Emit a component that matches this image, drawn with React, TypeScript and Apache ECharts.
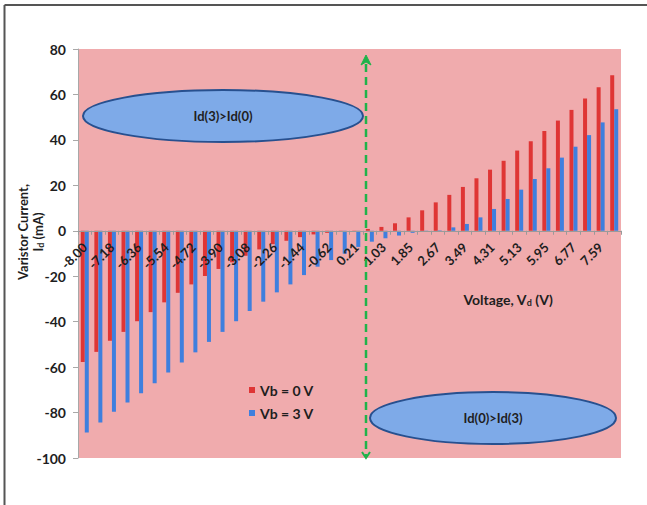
import React, { useEffect, useRef } from "react";
import * as echarts from "echarts";

// Drain voltage steps (V)
const voltages: string[] = [
  "-8.00", "-7.59", "-7.18", "-6.77", "-6.36", "-5.95", "-5.54", "-5.13",
  "-4.72", "-4.31", "-3.90", "-3.49", "-3.08", "-2.67", "-2.26", "-1.85",
  "-1.44", "-1.03", "-0.62", "-0.21", "0.21", "0.62", "1.03", "1.44",
  "1.85", "2.26", "2.67", "3.08", "3.49", "3.90", "4.31", "4.72",
  "5.13", "5.54", "5.95", "6.36", "6.77", "7.18", "7.59", "8.00",
];

// Varistor current Id (mA) at Vb = 0 V
const currentVb0: number[] = [
  -57.7, -53.3, -48.4, -44.5, -39.8, -35.8, -31.5, -27.3, -23.6, -19.9,
  -16.8, -13.9, -11.0, -8.2, -5.9, -4.4, -2.8, -1.6, -0.9, -0.5,
  -0.2, 0.8, 1.7, 3.3, 5.9, 9.0, 12.5, 15.8, 19.3, 23.1,
  26.9, 30.8, 35.3, 39.4, 43.9, 48.5, 53.2, 58.2, 63.2, 68.5,
];

// Varistor current Id (mA) at Vb = 3 V
const currentVb3: number[] = [
  -88.8, -84.4, -79.7, -75.6, -71.5, -67.1, -62.4, -58.0, -53.5, -48.9,
  -44.5, -39.8, -35.3, -31.2, -27.1, -23.6, -19.5, -15.8, -12.9, -10.1,
  -7.1, -4.8, -3.3, -2.1, -0.9, -0.3, 0.2, 1.5, 3.0, 5.9,
  9.6, 14.0, 18.1, 22.8, 27.5, 32.2, 37.0, 42.1, 47.7, 53.5,
];

const seriesNames: string[] = ["Vb = 0 V", "Vb = 3 V"];

const Y_MIN = -100;
const Y_MAX = 80;

const FONT = "Lato, 'Liberation Sans', sans-serif";
const TEXT = "#1e1e1e";
const GREEN = "#1fb34a";

export default function App() {
  const ref = useRef<HTMLDivElement>(null);

  useEffect(() => {
    if (!ref.current) return;
    const chart = echarts.init(ref.current, undefined, { renderer: "svg" });

    const gridTop = 49;
    const gridBottom = 47;
    const plotHeight = 505 - gridTop - gridBottom;
    // lift the category axis (line, ticks and labels) up to y = 0
    const zeroLift = -(plotHeight * (0 - Y_MIN)) / (Y_MAX - Y_MIN);

    const dashX = 366;
    const dashTop = 58;
    const dashBottom = 458;

    chart.setOption({
      animation: false,
      backgroundColor: "#ffffff",
      textStyle: { fontFamily: FONT },
      grid: {
        left: 78,
        top: gridTop,
        right: 26,
        bottom: gridBottom,
        show: true,
        backgroundColor: "#f0abad",
        borderWidth: 0,
        containLabel: false,
        outerBoundsMode: "none",
      },
      legend: {
        orient: "vertical",
        left: 244,
        top: 378,
        itemWidth: 6,
        itemHeight: 6,
        itemGap: 9,
        icon: "rect",
        data: seriesNames,
        textStyle: {
          fontFamily: FONT,
          fontWeight: "bold",
          fontSize: 14,
          color: TEXT,
        },
      },
      xAxis: {
        type: "category",
        data: voltages,
        boundaryGap: true,
        offset: zeroLift,
        z: 10,
        axisLine: { onZero: false, lineStyle: { color: "#9a9a9a", width: 1 } },
        axisTick: {
          show: true,
          interval: 0,
          length: 4,
          lineStyle: { color: "#9a9a9a" },
        },
        axisLabel: {
          interval: 1,
          rotate: 45,
          margin: 14,
          fontFamily: FONT,
          fontWeight: "bold",
          fontSize: 13,
          color: TEXT,
        },
        splitLine: { show: false },
      },
      yAxis: {
        type: "value",
        min: Y_MIN,
        max: Y_MAX,
        interval: 20,
        axisLine: { show: true, lineStyle: { color: "#a8a8a8", width: 1 } },
        axisTick: { show: true, length: 5, lineStyle: { color: "#a8a8a8" } },
        axisLabel: {
          margin: 12,
          fontFamily: FONT,
          fontWeight: "bold",
          fontSize: 14,
          color: TEXT,
        },
        splitLine: { show: false },
      },
      series: [
        {
          name: seriesNames[0],
          type: "bar",
          data: currentVb0,
          barWidth: 4,
          barGap: "0%",
          itemStyle: { color: "#df3535" },
        },
        {
          name: seriesNames[1],
          type: "bar",
          data: currentVb3,
          barWidth: 4,
          barGap: "0%",
          itemStyle: { color: "#3f7fde" },
        },
      ],
      graphic: [
        // frame edges
        {
          type: "line",
          shape: { x1: 4.5, y1: 5, x2: 647, y2: 5 },
          style: { stroke: "#555555", lineWidth: 2 },
          z: 100,
        },
        {
          type: "line",
          shape: { x1: 4.5, y1: 5, x2: 4.5, y2: 505 },
          style: { stroke: "#555555", lineWidth: 2 },
          z: 100,
        },
        // y axis title
        {
          type: "text",
          x: 30,
          y: 232,
          rotation: Math.PI / 2,
          style: {
            text: "{b|Varistor Current,}\n{b|I}{s|d}{b| (mA)}",
            align: "center",
            verticalAlign: "middle",
            fill: TEXT,
            rich: {
              b: { fontFamily: FONT, fontWeight: "bold", fontSize: 13, lineHeight: 15, fill: TEXT },
              s: { fontFamily: FONT, fontWeight: "bold", fontSize: 9, lineHeight: 15, verticalAlign: "bottom", padding: [5, 0, 0, 0], fill: TEXT },
            },
          },
          z: 100,
        },
        // x axis title
        {
          type: "text",
          x: 508,
          y: 299,
          style: {
            text: "{b|Voltage, V}{s|d}{b| (V)}",
            align: "center",
            verticalAlign: "middle",
            fill: TEXT,
            rich: {
              b: { fontFamily: FONT, fontWeight: "bold", fontSize: 14, lineHeight: 16, fill: TEXT },
              s: { fontFamily: FONT, fontWeight: "bold", fontSize: 9, lineHeight: 16, verticalAlign: "bottom", padding: [6, 0, 0, 0], fill: TEXT },
            },
          },
          z: 100,
        },
        // region notes
        {
          type: "ellipse",
          shape: { cx: 223, cy: 116, rx: 140, ry: 26 },
          style: { fill: "#7eaae8", stroke: "#27508f", lineWidth: 2 },
          z: 50,
        },
        {
          type: "text",
          x: 223,
          y: 116,
          style: {
            text: "Id(3)>Id(0)",
            align: "center",
            verticalAlign: "middle",
            font: `bold 13px ${FONT}`,
            fill: TEXT,
          },
          z: 51,
        },
        {
          type: "ellipse",
          shape: { cx: 493, cy: 418, rx: 123, ry: 26 },
          style: { fill: "#7eaae8", stroke: "#27508f", lineWidth: 2 },
          z: 50,
        },
        {
          type: "text",
          x: 493,
          y: 418,
          style: {
            text: "Id(0)>Id(3)",
            align: "center",
            verticalAlign: "middle",
            font: `bold 13px ${FONT}`,
            fill: TEXT,
          },
          z: 51,
        },
        // dashed divider with arrowheads
        {
          type: "line",
          shape: { x1: dashX, y1: dashTop + 6, x2: dashX, y2: dashBottom - 2 },
          style: { stroke: GREEN, lineWidth: 2.5, lineDash: [8, 5] },
          z: 60,
        },
        {
          type: "polygon",
          shape: {
            points: [
              [dashX, dashTop - 3],
              [dashX + 5, dashTop + 7],
              [dashX, dashTop + 4],
              [dashX - 5, dashTop + 7],
            ],
          },
          style: { fill: GREEN, stroke: GREEN, lineWidth: 1 },
          z: 60,
        },
        {
          type: "polyline",
          shape: {
            points: [
              [dashX - 4, dashBottom - 6],
              [dashX, dashBottom],
              [dashX + 4, dashBottom - 6],
            ],
          },
          style: { fill: "none", stroke: GREEN, lineWidth: 2 },
          z: 60,
        },
      ],
    });

    return () => {
      chart.dispose();
    };
  }, []);

  return (
    <div
      ref={ref}
      style={{ position: "fixed", left: 0, top: 0, width: 647, height: 505 }}
    />
  );
}
